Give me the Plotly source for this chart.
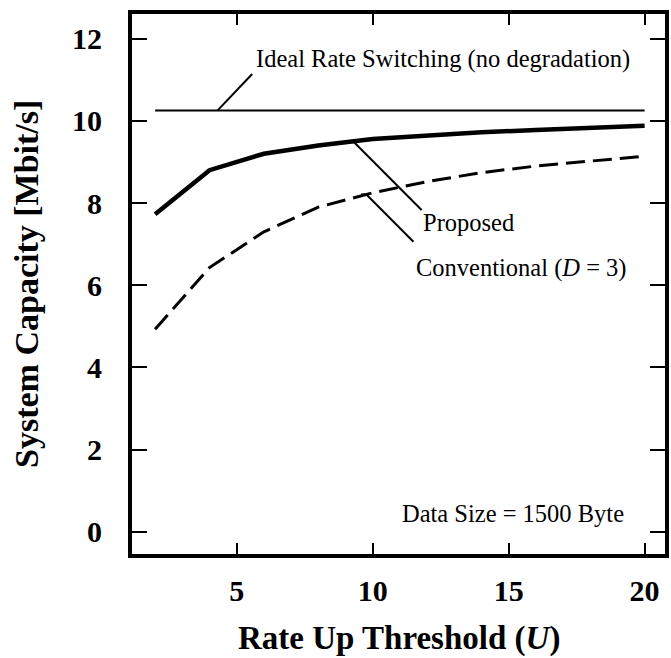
import numpy as np
import plotly.graph_objects as go

# Rate up threshold values (U)
threshold = [2, 4, 6, 8, 10, 12, 14, 16, 18, 20]

# System capacity [Mbit/s]
ideal = [10.25] * len(threshold)
proposed = [7.73, 8.80, 9.20, 9.40, 9.56, 9.65, 9.72, 9.78, 9.83, 9.88]
conventional = [4.93, 6.43, 7.30, 7.90, 8.25, 8.52, 8.74, 8.90, 9.02, 9.14]

x_ticks = [5, 10, 15, 20]
y_ticks = [0, 2, 4, 6, 8, 10, 12]

SERIF = "'Liberation Serif', 'Times New Roman', 'DejaVu Serif', serif"
INK = "black"

fig = go.Figure()
fig.add_trace(go.Scatter(x=threshold, y=ideal, mode="lines",
                         line=dict(color=INK, width=2), name="Ideal"))
fig.add_trace(go.Scatter(x=threshold, y=proposed, mode="lines",
                         line=dict(color=INK, width=4.5), name="Proposed"))
fig.add_trace(go.Scatter(x=threshold, y=conventional, mode="lines",
                         line=dict(color=INK, width=3, dash="19px,8px"),
                         name="Conventional"))


def on_curve(xv, series):
    return float(np.interp(xv, threshold, series))


# leader lines from each curve to its label
leaders = [
    (4.29, on_curve(4.29, ideal), 5.57, 11.14),
    (9.28, on_curve(9.28, proposed), 11.80, 7.83),
    (9.77, on_curve(9.77, conventional), 11.50, 7.06),
]
for x0, y0, x1, y1 in leaders:
    fig.add_shape(type="line", xref="x", yref="y", x0=x0, y0=y0, x1=x1, y1=y1,
                  line=dict(color=INK, width=2))
# small hook on the conventional leader
hx, hy = 9.77, on_curve(9.77, conventional)
fig.add_shape(type="line", xref="x", yref="y", x0=hx - 0.2, y0=hy, x1=hx, y1=hy,
              line=dict(color=INK, width=2))

labels = [
    (12.57, 11.5, "Ideal Rate Switching (no degradation)"),
    (13.53, 7.53, "Proposed"),
    (15.45, 6.41, "Conventional (<i>D</i> = 3)"),
    (15.16, 0.45, "Data Size = 1500 Byte"),
]
for lx, ly, txt in labels:
    fig.add_annotation(x=lx, y=ly, xref="x", yref="y", text=txt, showarrow=False,
                       font=dict(family=SERIF, size=24.5, color=INK),
                       xanchor="center", yanchor="middle")

# axis titles
fig.add_annotation(x=0.5, y=-0.157, xref="paper", yref="paper",
                   text="<b>Rate Up Threshold (<i>U</i>)</b>", showarrow=False,
                   font=dict(family=SERIF, size=33, color=INK),
                   xanchor="center", yanchor="middle")
fig.add_annotation(x=-0.199, y=0.5, xref="paper", yref="paper",
                   text="<b>System Capacity [Mbit/s]</b>", showarrow=False,
                   textangle=-90,
                   font=dict(family=SERIF, size=34, color=INK),
                   xanchor="center", yanchor="middle")

axis_common = dict(showline=True, linecolor=INK, linewidth=4, mirror="ticks",
                   ticks="inside", tickcolor=INK, tickwidth=2,
                   showgrid=False, zeroline=False,
                   tickfont=dict(family=SERIF, size=30, color=INK))

fig.update_xaxes(range=[1.15, 20.75], tickvals=x_ticks,
                 ticktext=[f"<b>{v}</b>" for v in x_ticks], ticklen=11,
                 ticklabelstandoff=7, **axis_common)
fig.update_yaxes(range=[-0.54, 12.6], tickvals=y_ticks,
                 ticktext=[f"<b>{v}</b>" for v in y_ticks], ticklen=15,
                 ticklabelstandoff=20, **axis_common)

fig.update_layout(width=671, height=658, showlegend=False,
                  margin=dict(l=132, r=2, t=14, b=104),
                  paper_bgcolor="white", plot_bgcolor="white",
                  font=dict(family=SERIF, color=INK))

fig.write_html("out.html")
